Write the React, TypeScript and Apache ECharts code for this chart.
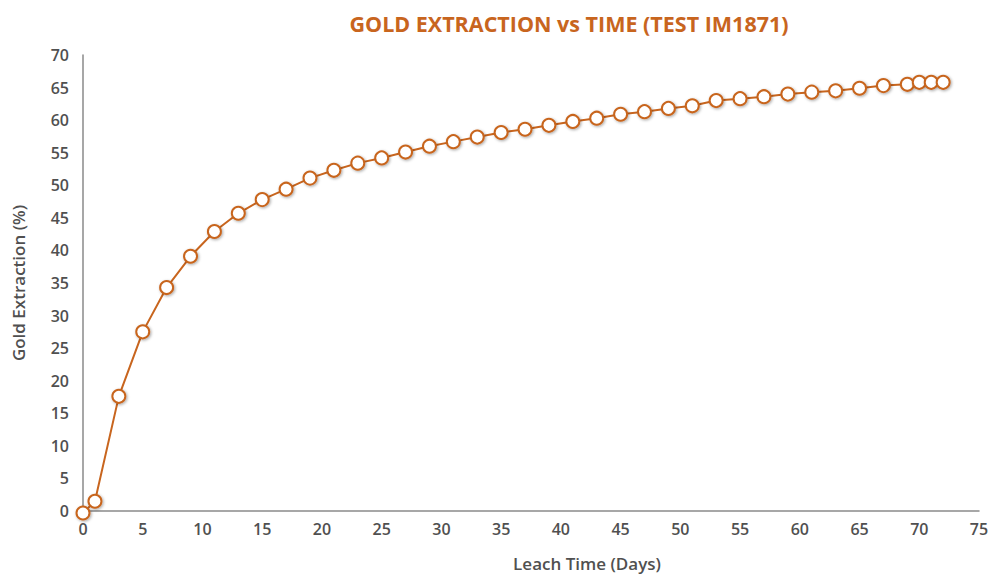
import React, { useEffect, useRef } from "react";
import * as echarts from "echarts";

const titleText = "GOLD EXTRACTION vs TIME (TEST IM1871)";
const xAxisName = "Leach Time (Days)";
const yAxisName = "Gold Extraction (%)";

const leachDays = [0, 1, 3, 5, 7, 9, 11, 13, 15, 17, 19, 21, 23, 25, 27, 29, 31, 33, 35, 37, 39, 41, 43, 45, 47, 49, 51, 53, 55, 57, 59, 61, 63, 65, 67, 69, 70, 71, 72];
const goldExtraction = [-0.3, 1.5, 17.6, 27.5, 34.3, 39.1, 42.9, 45.7, 47.8, 49.4, 51.1, 52.3, 53.4, 54.2, 55.1, 56.0, 56.7, 57.4, 58.1, 58.6, 59.2, 59.8, 60.3, 60.9, 61.3, 61.8, 62.2, 63.0, 63.3, 63.6, 64.0, 64.3, 64.5, 64.9, 65.3, 65.5, 65.8, 65.8, 65.8];

const xMin = 0, xMax = 75, xStep = 5;
const yMin = 0, yMax = 70, yStep = 5;

const ORANGE = "#C8651E";
const AXIS_GRAY = "#8a8a8a";
const LABEL_GRAY = "#505050";
const FONT = "'Open Sans', 'Noto Sans', sans-serif";

export default function App() {
  const ref = useRef<HTMLDivElement>(null);
  useEffect(() => {
    if (!ref.current) return;
    const chart = echarts.init(ref.current, null, { renderer: "svg" });
    const data = leachDays.map((d, i) => [d, goldExtraction[i]]);
    chart.setOption({
      animation: false,
      backgroundColor: "#ffffff",
      title: {
        text: titleText,
        left: 564,
        top: 7,
        textAlign: "center",
        textStyle: { color: ORANGE, fontFamily: FONT, fontWeight: "bold", fontSize: 21.5 },
      },
      grid: { left: 83, right: 13, top: 55, bottom: 67, outerBoundsMode: "none" },
      xAxis: {
        type: "value",
        min: xMin,
        max: xMax,
        interval: xStep,
        name: xAxisName,
        nameLocation: "middle",
        nameGap: 44,
        nameTextStyle: { color: LABEL_GRAY, fontFamily: FONT, fontSize: 17, fontWeight: 600, padding: [0, 0, 0, 112] },
        axisLine: { show: true, lineStyle: { color: AXIS_GRAY, width: 1.5 } },
        axisTick: { show: false },
        splitLine: { show: false },
        axisLabel: { color: LABEL_GRAY, fontFamily: FONT, fontSize: 16, fontWeight: 600, margin: 10 },
      },
      yAxis: {
        type: "value",
        min: yMin,
        max: yMax,
        interval: yStep,
        name: yAxisName,
        nameLocation: "middle",
        nameGap: 56,
        nameRotate: 90,
        nameTextStyle: { color: LABEL_GRAY, fontFamily: FONT, fontSize: 17, fontWeight: 600 },
        axisLine: { show: true, lineStyle: { color: AXIS_GRAY, width: 1.5 } },
        axisTick: { show: false },
        splitLine: { show: false },
        axisLabel: { color: LABEL_GRAY, fontFamily: FONT, fontSize: 16, fontWeight: 600, margin: 14 },
      },
      series: [
        {
          type: "line",
          data,
          clip: false,
          symbol: "circle",
          symbolSize: 13,
          lineStyle: { color: ORANGE, width: 2 },
          itemStyle: {
            color: "#ffffff",
            borderColor: ORANGE,
            borderWidth: 2,
            shadowBlur: 3,
            shadowColor: "rgba(0,0,0,0.35)",
            shadowOffsetX: 1,
            shadowOffsetY: 1,
          },
        },
      ],
    });
    return () => chart.dispose();
  }, []);
  return <div ref={ref} style={{ position: "fixed", left: 0, top: 0, width: 992, height: 578 }} />;
}
